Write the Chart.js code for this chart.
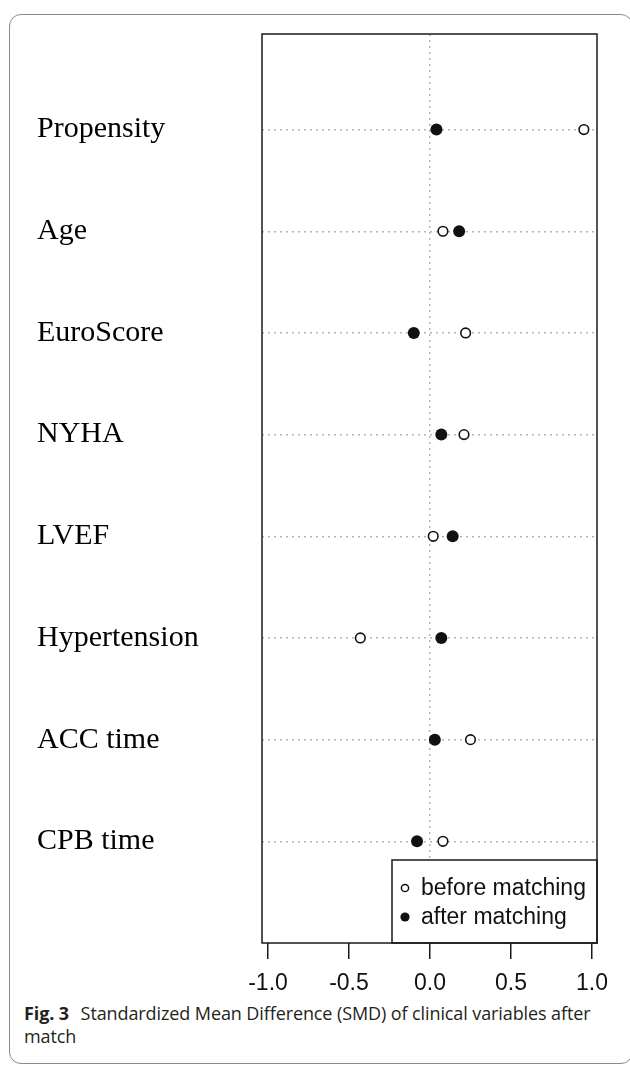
<!DOCTYPE html>
<html>
<head>
<meta charset="utf-8">
<script src="https://cdn.jsdelivr.net/npm/chart.js@4"></script>
<style>
  html, body { margin: 0; padding: 0; background: #fff; }
  body { width: 630px; height: 1065px; position: relative; overflow: hidden; }
  #frame { position: absolute; left: 9px; top: 14px; width: 624px; height: 1050px; border: 1px solid #8a8a8a; border-radius: 12px; box-sizing: border-box; }
  #wrap { position: absolute; left: 0; top: 0; width: 630px; height: 1000px; }
  #caption { position: absolute; left: 24px; top: 1002px; width: 600px; font-family: "Open Sans", sans-serif; font-size: 18px; line-height: 23px; color: #231f20; white-space: nowrap; letter-spacing: -0.1px; }
  #caption b { font-weight: 700; margin-right: 7px; }
</style>
</head>
<body>
<div id="frame"></div>
<div id="wrap"><canvas id="c" width="630" height="1000"></canvas></div>
<div id="caption"><b>Fig. 3</b> Standardized Mean Difference (SMD) of clinical variables after<br>match</div>
<script>
const categories = ['Propensity', 'Age', 'EuroScore', 'NYHA', 'LVEF', 'Hypertension', 'ACC time', 'CPB time'];
const beforeMatching = [0.95, 0.08, 0.22, 0.21, 0.02, -0.43, 0.25, 0.08];
const afterMatching = [0.04, 0.18, -0.10, 0.07, 0.14, 0.07, 0.03, -0.08];
const xTickValues = [-1.0, -0.5, 0.0, 0.5, 1.0];
const seriesLabels = ['before matching', 'after matching'];

const n = categories.length;
const rowOf = i => n - i;

const boxPlugin = {
  id: 'boxAndLegend',
  afterDraw(chart) {
    const ctx = chart.ctx;
    const a = chart.chartArea;
    ctx.save();
    // legend box
    const lw = 205, lh = 83;
    const lx = a.right - lw, ly = a.bottom - lh;
    ctx.fillStyle = '#fff';
    ctx.fillRect(lx, ly, lw, lh);
    ctx.lineWidth = 1.5;
    ctx.strokeStyle = '#1a1a1a';
    ctx.strokeRect(lx, ly, lw, lh);
    chart.data.datasets.forEach((ds, k) => {
      const cy = ly + 28 + k * 29;
      const cx = lx + 13;
      ctx.beginPath();
      ctx.arc(cx, cy, k === 0 ? 3.6 : 4.6, 0, Math.PI * 2);
      if (k === 0) {
        ctx.fillStyle = '#fff'; ctx.fill();
        ctx.lineWidth = 1.5; ctx.strokeStyle = '#111'; ctx.stroke();
      } else {
        ctx.fillStyle = '#111'; ctx.fill();
      }
      ctx.fillStyle = '#111';
      ctx.font = '23px "Liberation Sans", Arial, sans-serif';
      ctx.textBaseline = 'middle';
      ctx.textAlign = 'left';
      ctx.fillText(ds.label, lx + 29, cy + 1);
    });
    // plot box
    ctx.lineWidth = 1.5;
    ctx.strokeStyle = '#1a1a1a';
    ctx.strokeRect(a.left, a.top, a.right - a.left, a.bottom - a.top);
    ctx.restore();
  }
};

new Chart(document.getElementById('c'), {
  type: 'scatter',
  data: {
    datasets: [
      {
        label: seriesLabels[0],
        data: beforeMatching.map((v, i) => ({ x: v, y: rowOf(i) })),
        pointStyle: 'circle',
        pointRadius: 4.8,
        pointBorderWidth: 1.6,
        pointBackgroundColor: '#fff',
        pointBorderColor: '#111',
        order: 2
      },
      {
        label: seriesLabels[1],
        data: afterMatching.map((v, i) => ({ x: v, y: rowOf(i) })),
        pointStyle: 'circle',
        pointRadius: 6,
        pointBorderWidth: 0,
        pointBackgroundColor: '#111',
        pointBorderColor: '#111',
        order: 1
      }
    ]
  },
  options: {
    responsive: false,
    animation: false,
    events: [],
    layout: { padding: { top: 34, left: 37, right: 33, bottom: 0 } },
    plugins: { legend: { display: false }, tooltip: { enabled: false } },
    scales: {
      x: {
        type: 'linear',
        min: -1.037,
        max: 1.031,
        afterBuildTicks: s => { s.ticks = xTickValues.map(v => ({ value: v })); },
        afterFit: s => { s.height = 57; },
        border: { display: false, dash: [2, 4] },
        grid: {
          color: c => (c.tick && c.tick.value === 0) ? '#b5b5b5' : 'rgba(0,0,0,0)',
          lineWidth: 1.5,
          drawTicks: true,
          tickLength: 16,
          tickColor: '#1a1a1a',
          tickWidth: 1.5,
          tickBorderDash: []
        },
        ticks: {
          padding: 11,
          color: '#111',
          font: { family: '"Liberation Sans", Arial, sans-serif', size: 23 },
          callback: v => Number(v).toFixed(1),
          maxRotation: 0,
          autoSkip: false
        }
      },
      y: {
        type: 'linear',
        min: 0,
        max: 8.94,
        afterBuildTicks: s => { s.ticks = categories.map((c, i) => ({ value: rowOf(i) })); },
        afterFit: s => { s.width = 225; },
        border: { display: false, dash: [2, 4] },
        grid: {
          color: '#b5b5b5',
          lineWidth: 1.5,
          drawTicks: false
        },
        ticks: {
          crossAlign: 'far',
          padding: 0,
          color: '#000',
          font: { family: '"Liberation Serif", "Times New Roman", serif', size: 30 },
          callback: v => categories[n - v],
          autoSkip: false
        }
      }
    }
  },
  plugins: [boxPlugin]
});
</script>
</body>
</html>
